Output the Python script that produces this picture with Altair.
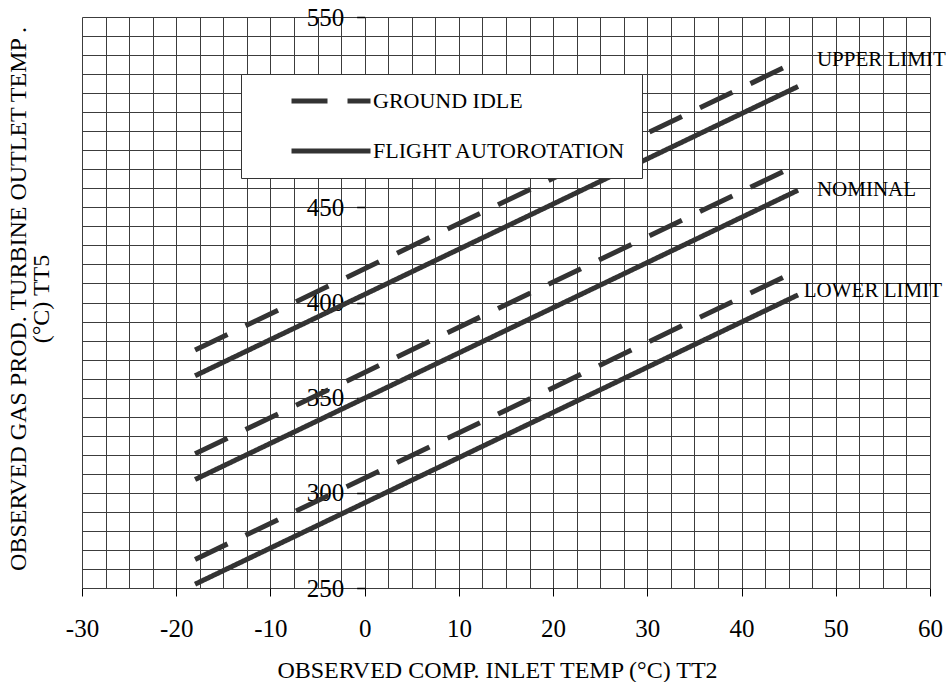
import altair as alt
import pandas as pd

# Compressor inlet temperature (°C) at both ends of every curve
inlet_temp = [-18, 46]

# Turbine outlet temperature TT5 (°C) at those two inlet temperatures
ground_upper = [375.0, 527.0]
ground_nominal = [320.5, 472.5]
ground_lower = [265.0, 417.0]
flight_upper = [361.5, 513.5]
flight_nominal = [307.0, 459.0]
flight_lower = [252.0, 404.0]

conditions = ["GROUND IDLE", "FLIGHT AUTOROTATION"]
limit_names = ["UPPER LIMIT", "NOMINAL", "LOWER LIMIT"]

# Curve captions on the right-hand side
label_x = [48.0, 48.0, 46.6]
label_y = [527.5, 459.0, 406.3]

# Grid lines: every 2.5 °C across, every 10 °C up
x_grid = [-30.0, -27.5, -25.0, -22.5, -20.0, -17.5, -15.0, -12.5, -10.0, -7.5,
          -5.0, -2.5, 0.0, 2.5, 5.0, 7.5, 10.0, 12.5, 15.0, 17.5, 20.0, 22.5,
          25.0, 27.5, 30.0, 32.5, 35.0, 37.5, 40.0, 42.5, 45.0, 47.5, 50.0,
          52.5, 55.0, 57.5, 60.0]
y_grid = [250, 260, 270, 280, 290, 300, 310, 320, 330, 340, 350, 360, 370,
          380, 390, 400, 410, 420, 430, 440, 450, 460, 470, 480, 490, 500,
          510, 520, 530, 540, 550]

rows = []
for cond, series in zip(conditions,
                        [[ground_upper, ground_nominal, ground_lower],
                         [flight_upper, flight_nominal, flight_lower]]):
    for name, temps in zip(limit_names, series):
        for t2, t5 in zip(inlet_temp, temps):
            rows.append({"tt2": t2, "tt5": t5, "condition": cond, "limit": name})
curves = pd.DataFrame(rows)
captions = pd.DataFrame({"tt2": label_x, "tt5": label_y, "text": limit_names})

FONT = "Liberation Serif"
INK = "#333333"
GRID = "#3c3c3c"
PLOT_W, PLOT_H = 848, 571
X_DOMAIN = [-30, 60]
Y_DOMAIN = [250, 550]
# pixel position of 0 °C, where the temperature scale is drawn
zero_px = PLOT_W * (0 - X_DOMAIN[0]) / (X_DOMAIN[1] - X_DOMAIN[0])

x_scale = alt.Scale(domain=X_DOMAIN, nice=False, zero=False)
y_scale = alt.Scale(domain=Y_DOMAIN, nice=False, zero=False)

x_axis = alt.Axis(
    values=x_grid, tickCount=200, grid=True, gridColor=GRID, gridWidth=1,
    gridOpacity=1, domain=False, tickSize=8, tickColor="black", tickWidth=1,
    tickOpacity={"condition": {"test": "datum.value % 10 === 0", "value": 1}, "value": 0},
    labelExpr="datum.value % 10 === 0 ? '' + datum.value : ''",
    labelOverlap=False, labelFlush=False, labelFont=FONT, labelFontSize=25,
    labelColor="black", labelPadding=20,
    title="OBSERVED COMP. INLET TEMP (°C) TT2", titleFont=FONT, titleFontSize=24,
    titleFontWeight="normal", titleColor="black", titleBaseline="alphabetic",
    titleX=415, titleY=89,
)

y_axis = alt.Axis(
    values=y_grid, tickCount=200, grid=True, gridColor=GRID, gridWidth=1,
    gridOpacity=1, domain=False, offset=-zero_px, tickSize=8, tickColor="black",
    tickWidth=1.5,
    tickOpacity={"condition": {"test": "datum.value % 50 === 0", "value": 1}, "value": 0},
    labelExpr="datum.value % 50 === 0 ? '' + datum.value : ''",
    labelOverlap=False, labelFont=FONT, labelFontSize=25, labelColor="black",
    labelPadding=13,
    title=["OBSERVED GAS PROD. TURBINE OUTLET TEMP .", "(°C) TT5"],
    titleFont=FONT, titleFontSize=24, titleFontWeight="normal", titleColor="black",
    titleAngle=270, titleBaseline="middle", titleAlign="center", titleLineHeight=23,
    titleX=-zero_px - 64, titleY=PLOT_H / 2 - 4,
)

lines = alt.Chart(curves).mark_line(strokeWidth=5, color=INK, strokeCap="butt").encode(
    x=alt.X("tt2:Q", scale=x_scale, axis=x_axis),
    y=alt.Y("tt5:Q", scale=y_scale, axis=y_axis),
    detail="limit:N",
    strokeDash=alt.StrokeDash(
        "condition:N",
        scale=alt.Scale(domain=conditions, range=[[36, 20], [1, 0]]),
        legend=alt.Legend(
            title=None, orient="none", legendX=159, legendY=57,
            symbolType="stroke", symbolSize=79 * 79, symbolStrokeWidth=5,
            symbolStrokeColor=INK, clipHeight=22, padding=16, rowPadding=28,
            symbolOffset=32, labelOffset=0, labelFont=FONT, labelFontSize=22,
            labelColor="black", labelLimit=400, fillColor="white",
            strokeColor="#333333",
        ),
    ),
)

labels = alt.Chart(captions).mark_text(
    align="left", baseline="middle", font=FONT, fontSize=21, color="black"
).encode(
    x=alt.X("tt2:Q", scale=x_scale),
    y=alt.Y("tt5:Q", scale=y_scale),
    text="text:N",
)

chart = alt.layer(lines, labels).properties(
    width=PLOT_W, height=PLOT_H,
    autosize=alt.AutoSizeParams(type="none"),
    padding={"left": 82, "top": 17, "right": 16, "bottom": 94},
    background="white",
).configure_view(stroke=None)

chart.save("out.html", embed_options={"renderer": "svg", "actions": False})
